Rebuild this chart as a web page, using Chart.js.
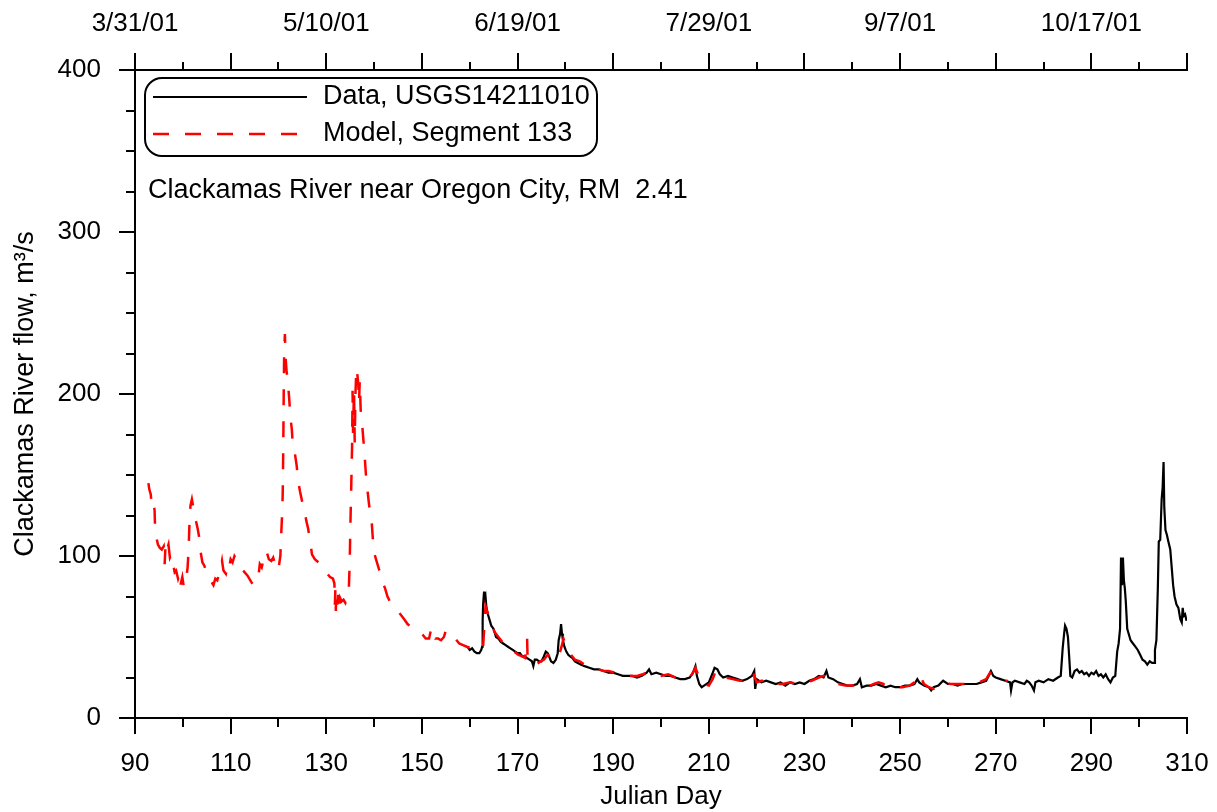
<!DOCTYPE html>
<html><head><meta charset="utf-8">
<script src="https://cdn.jsdelivr.net/npm/chart.js@4"></script>
<style>html,body{margin:0;padding:0;background:#fff;}canvas{display:block;}</style>
</head><body>
<canvas id="c" width="1217" height="812"></canvas>
<script>
// ---- data ----
const modelDays = [92.8,93.0,93.3,93.5,93.9,94.1,94.2,94.5,94.8,95.2,95.6,96.0,96.2,96.4,96.7,97.0,97.3,97.6,97.9,98.3,98.6,99.0,99.3,99.5,99.9,100.2,100.5,100.8,101.0,101.2,101.4,101.6,101.9,102.2,102.5,102.8,103.1,103.4,103.7,104.1,104.5,105.0,105.8,106.4,106.8,107.2,107.6,107.9,108.2,108.5,109.0,109.3,109.7,110.0,110.4,110.8,111.2,112.0,112.6,113.5,114.3,114.8,115.3,115.8,116.1,116.5,116.9,117.3,117.6,118.0,118.5,118.9,119.3,119.7,120.1,120.4,120.6,120.8,120.9,121.0,121.1,121.2,121.35,121.5,121.7,121.9,122.2,122.5,122.8,123.0,123.4,123.8,124.2,124.5,125.0,125.4,125.8,126.2,126.7,127.0,127.6,128.4,129.0,129.6,130.2,130.8,131.4,131.7,131.8,131.9,132.0,132.1,132.3,132.5,132.7,132.9,133.2,133.6,134.0,134.4,134.7,134.9,135.05,135.2,135.4,135.5,135.6,135.8,135.95,136.1,136.3,136.5,136.7,136.85,137.0,137.2,137.4,137.7,138.0,138.3,138.6,138.9,139.2,139.5,139.8,140.1,140.5,141.0,141.5,141.9,142.3,142.8,143.3,144.0,144.8,145.5,146.3,147.0,147.8,148.6,149.3,150.0,150.8,151.5,152.0,152.3,152.8,153.4,154.0,154.6,155.0,155.4,156.0,157.0,157.8,158.6,159.4,160.3,161.0,162.0,162.8,163.3,163.6,164.0,164.5,165.2,166.0,166.8,167.6,168.5,169.3,170.2,171.0,171.6,172.0,172.1,172.8,173.4,174.0,174.8,175.5,176.3,177.0,177.8,178.6,179.2,179.6,180.0,180.5,181.2,182.0,183.0,184.0,185.0,186.0,187.0,188.0,189.0,190.5,192.0,193.5,195.0,196.2,197.0,197.8,198.5,200.0,201.5,203.0,204.5,205.5,206.5,207.2,207.6,208.2,209.0,210.0,210.8,211.3,211.8,212.4,213.5,215.0,216.5,218.0,219.0,219.3,220.0,221.0,222.5,224.0,225.5,227.0,228.5,230.0,231.5,233.0,234.0,235.0,236.0,237.0,238.5,240.0,241.5,243.0,244.5,245.5,246.5,247.5,249.0,250.5,252.0,253.0,253.8,254.4,255.0,256.0,257.0,258.0,259.0,260.5,262.0,263.5,265.0,266.5,268.0,268.8,269.5,270.5,271.5,272.5];
const modelFlow = [145,141,138,131,133,128,117,111,107,105,104,106,95,108,104,107,99,101,96,90,91,86,89,82,87,81,84,88,93,103,121,131,135,130,124,121,117,112,103,96,94,89,85,82,86,85,89,92,97,91,89,95,93,98,96,100,98,93,91,88,84,82,84,87,95,93,98,97,102,98,97,99,95,91,94,100,115,128,140,165,200,227,237,222,214,210,199,186,178,169,164,156,145,140,133,130,122,117,108,101,98,96,92,90,89,87,86,83,70,79,66,78,70,76,68,74,72,73,71,74,78,96,120,140,168,202,176,203,170,200,216,212,206,195,208,190,185,174,163,150,141,133,126,121,108,101,97,92,88,83,80,75,72,70,67,64,61,58,56,55,53,52,49,49,56,52,49,49,48,50,54,52,50,49,46,45,44,43,42,42,44,69,66,63,58,53,50,47,45,44,41,39,38,37,49,37,36,34,33,35,36,39,37,36,38,44,49,46,42,39,36,35,33,32,31,30,29,29,28,27,26,26,27,28,27,26,26,27,25,24,24,27,31,28,22,21,20,24,28,29,26,25,24,23,23,26,28,22,23,23,21,21,22,21,22,23,25,26,25,23,21,20,20,20,19,21,22,21,19,19,19,20,22,27,25,21,19,18,20,22,21,21,21,21,22,24,28,26,25,23,23];
const dataDays = [159.5,160.0,160.5,161.0,161.5,162.0,162.4,162.6,162.7,162.8,163.0,163.1,163.3,163.5,163.8,164.1,164.5,165.0,165.5,166.0,166.5,167.0,167.5,168.0,168.5,169.0,169.5,170.0,170.5,171.0,171.5,172.0,172.5,173.0,173.3,173.6,174.0,174.5,175.0,175.5,175.9,176.3,176.6,177.0,177.5,178.0,178.4,178.6,178.9,179.1,179.3,179.5,179.8,180.2,180.6,181.0,181.5,182.0,182.6,183.2,184.0,185.0,186.0,187.0,188.0,189.0,190.0,191.0,192.0,193.0,194.0,195.0,196.0,197.0,197.5,198.0,199.0,200.0,201.0,202.0,203.0,204.0,205.0,206.0,206.7,207.2,207.5,208.0,208.5,209.0,210.0,210.7,211.2,211.8,212.3,213.0,214.0,215.0,216.0,217.0,218.0,219.0,219.5,219.7,220.0,221.0,222.0,223.0,224.0,225.0,226.0,227.0,228.0,229.0,230.0,231.0,232.0,233.0,234.0,234.6,235.0,236.0,237.0,238.0,239.0,240.0,241.0,241.6,242.0,243.0,244.0,245.0,246.0,247.0,248.0,249.0,250.0,251.0,252.0,253.0,253.6,254.0,255.0,256.0,256.5,257.0,258.0,259.0,260.0,261.0,262.0,263.0,264.0,265.0,266.0,267.0,268.0,268.7,269.0,269.5,270.0,271.0,272.0,273.0,273.2,273.5,274.0,275.0,276.0,276.5,277.0,277.5,278.0,278.3,279.0,280.0,281.0,282.0,283.0,283.6,284.0,284.3,284.5,284.8,285.1,285.4,285.6,286.0,286.5,287.0,287.5,288.0,288.5,289.0,289.5,290.0,290.5,291.0,291.5,292.0,292.5,293.0,293.5,294.0,294.5,295.0,295.4,295.7,296.0,296.2,296.4,296.6,296.8,297.0,297.2,297.5,297.8,298.2,298.7,299.2,299.7,300.2,300.7,301.2,301.7,302.2,302.7,303.1,303.3,303.6,303.9,304.1,304.4,304.7,304.9,305.1,305.25,305.5,305.8,306.1,306.5,306.8,307.1,307.4,307.8,308.2,308.6,308.9,309.1,309.3,309.6,309.9];
const dataFlow = [44,42,43,41,40,40,42,44,60,70,78,73,75,68,64,61,57,55,50,49,47,46,45,44,43,42,41,40,40,38,38,37,36,35,32,36,36,35,35,38,41,40,38,35,34,36,40,48,52,58,52,48,44,41,39,38,37,35,34,33,32,31,30,30,29,28,28,27,26,26,26,25,26,28,30,27,28,27,26,26,25,24,24,25,28,32,26,21,19,20,22,27,31,30,27,25,26,25,24,23,24,26,29,18,24,22,23,22,21,22,20,22,21,22,21,23,24,26,25,29,25,24,22,21,20,20,21,24,19,20,20,21,20,19,20,19,19,20,20,21,24,22,20,19,17,19,20,23,21,21,20,21,21,21,21,22,23,27,29,26,25,24,23,22,17,22,23,22,21,23,22,20,17,22,23,22,24,23,25,26,43,52,57,55,50,36,26,25,29,30,28,29,27,28,26,28,27,29,26,27,25,27,24,22,25,26,41,46,55,99,82,99,85,80,72,55,52,48,46,44,42,39,36,35,33,35,34,34,42,48,80,109,110,135,142,158,130,116,113,109,104,93,82,75,70,68,61,59,68,63,64,60];
const xTickDays = [90,110,130,150,170,190,210,230,250,270,290,310];
const topTickDays = [90,130,170,210,250,290];
const topTickLabels = ['3/31/01','5/10/01','6/19/01','7/29/01','9/7/01','10/17/01'];
const yTickValues = [0,100,200,300,400];
const seriesNames = ['Data, USGS14211010','Model, Segment 133'];
const stationNote = 'Clackamas River near Oregon City, RM  2.41';

const FONT = 'Liberation Sans';
const RED_DASH = [16,16];

const axisTicks = {
  id:'axisTicks',
  afterDraw(chart){
    const ctx = chart.ctx, a = chart.chartArea;
    const xs = chart.scales.x, ys = chart.scales.y;
    ctx.save();
    ctx.strokeStyle = '#000'; ctx.lineWidth = 2; ctx.setLineDash([]);
    const seg = (x1,y1,x2,y2)=>{ctx.beginPath();ctx.moveTo(x1,y1);ctx.lineTo(x2,y2);ctx.stroke();};
    for (let d = xs.min; d <= xs.max + 1e-6; d += 10) {
      const px = Math.round(xs.getPixelForValue(d));
      const major = Math.round(d - xs.min) % 20 === 0;
      seg(px, a.bottom, px, a.bottom + (major ? 16 : 9));
      seg(px, a.top, px, a.top - (major ? 17 : 8));
    }
    for (let v = ys.min; v <= ys.max + 1e-6; v += 25) {
      const py = Math.round(ys.getPixelForValue(v));
      const major = v % 100 === 0;
      seg(a.left, py, a.left - (major ? 16 : 9), py);
    }
    // legend box
    const bx = a.left + 10, by = a.top + 8, bw = 452, bh = 78, r = 17;
    ctx.beginPath();
    ctx.moveTo(bx + r, by); ctx.lineTo(bx + bw - r, by); ctx.arcTo(bx + bw, by, bx + bw, by + r, r);
    ctx.lineTo(bx + bw, by + bh - r); ctx.arcTo(bx + bw, by + bh, bx + bw - r, by + bh, r);
    ctx.lineTo(bx + r, by + bh); ctx.arcTo(bx, by + bh, bx, by + bh - r, r);
    ctx.lineTo(bx, by + r); ctx.arcTo(bx, by, bx + r, by, r); ctx.closePath();
    ctx.stroke();
    const ds = chart.data.datasets;
    const rows = [ds[1], ds[0]];
    ctx.font = '27px "' + FONT + '"';
    rows.forEach((d, i) => {
      const yy = by + 19 + i * 37;
      ctx.strokeStyle = d.borderColor; ctx.lineWidth = d.borderWidth;
      ctx.setLineDash(d.borderDash || []);
      seg(bx + 8, yy, bx + 162, yy);
      ctx.setLineDash([]);
      ctx.fillStyle = '#000'; ctx.textBaseline = 'middle'; ctx.textAlign = 'left';
      ctx.fillText(d.label, bx + 178, yy);
    });
    ctx.fillText(stationNote, a.left + 13, a.top + 121);
    ctx.restore();
  }
};

const tickFont = {family: FONT, size: 26};
const titleFont = {family: FONT, size: 27};
new Chart(document.getElementById('c'), {
  type: 'line',
  data: {
    datasets: [
      {label: seriesNames[1], data: modelDays.map((d,i)=>({x:d, y:modelFlow[i]})), borderColor:'#ff0000', borderWidth:2.5, borderDash:RED_DASH, pointRadius:0, fill:false, tension:0},
      {label: seriesNames[0], data: dataDays.map((d,i)=>({x:d, y:dataFlow[i]})), borderColor:'#000000', borderWidth:2.2, pointRadius:0, fill:false, tension:0}
    ]
  },
  options: {
    responsive:false, animation:false, devicePixelRatio:1,
    layout:{padding:{left:0, right:30, top:0, bottom:0}},
    plugins:{legend:{display:false}, tooltip:{enabled:false}},
    scales:{
      x:{type:'linear', position:'bottom', min:90, max:310,
        afterBuildTicks:s=>{s.ticks = xTickDays.map(v=>({value:v}));},
        afterFit:s=>{s.height = 94; s.paddingLeft = 0; s.paddingRight = 0;},
        grid:{display:false, drawTicks:false}, border:{display:true, color:'#000', width:2},
        ticks:{color:'#000', font:tickFont, padding:30, maxRotation:0, autoSkip:false},
        title:{display:true, text:'Julian Day', color:'#000', font:tickFont, padding:{top:0, bottom:0}}
      },
      x2:{type:'linear', position:'top', min:90, max:310,
        afterBuildTicks:s=>{s.ticks = topTickDays.map(v=>({value:v}));},
        afterFit:s=>{s.height = 70; s.paddingLeft = 0; s.paddingRight = 0;},
        grid:{display:false, drawTicks:false}, border:{display:true, color:'#000', width:2},
        ticks:{color:'#000', font:tickFont, padding:31, maxRotation:0, autoSkip:false,
          callback:(v)=>{const i = topTickDays.indexOf(v); return i >= 0 ? topTickLabels[i] : '';}}
      },
      y:{type:'linear', position:'left', min:0, max:400,
        afterBuildTicks:s=>{s.ticks = yTickValues.map(v=>({value:v}));},
        afterFit:s=>{s.width = 135; s.paddingTop = 0; s.paddingBottom = 0;},
        grid:{display:false, drawTicks:false}, border:{display:true, color:'#000', width:2},
        ticks:{color:'#000', font:tickFont, padding:34},
        title:{display:true, text:'Clackamas River flow, m\u00b3/s', color:'#000', font:titleFont, padding:{top:9, bottom:0}}
      }
    }
  },
  plugins:[axisTicks]
});
</script>
</body></html>
